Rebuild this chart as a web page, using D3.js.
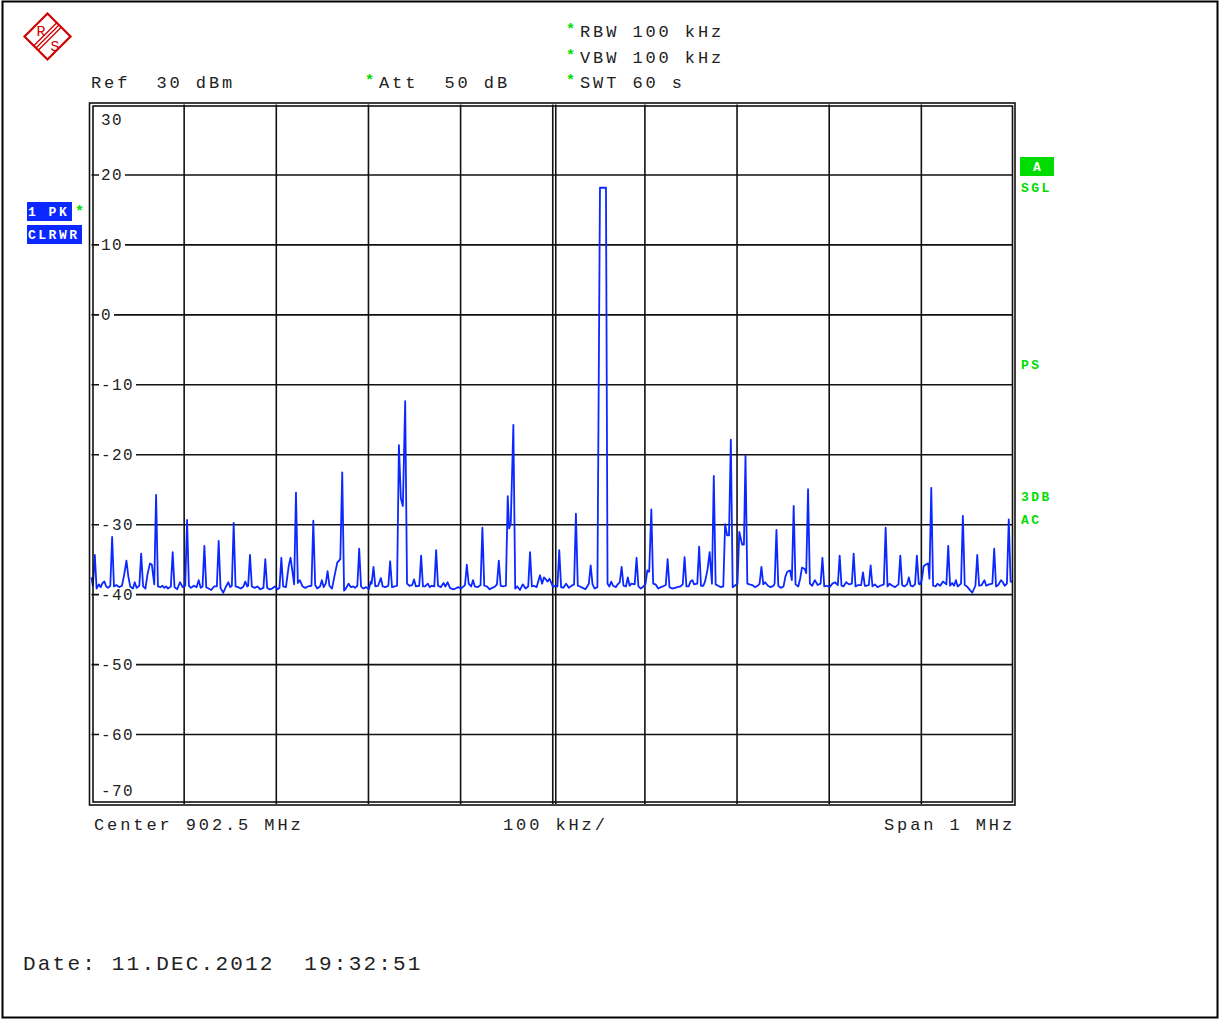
<!DOCTYPE html>
<html>
<head>
<meta charset="utf-8">
<script src="https://cdn.jsdelivr.net/npm/d3@7"></script>
<style>
  body { margin: 0; background: #fff; }
  svg text { font-family: "Liberation Mono", "Courier New", monospace; white-space: pre; }
</style>
</head>
<body>
<svg id="chart" width="1220" height="1019"></svg>
<script>
const centerMHz = 902.5;
const spanMHz = 1;
const refLevel = 30;
const bottomLevel = -70;
const lineLabels = [20, 10, 0, -10, -20, -30, -40, -50, -60];
const cornerLabels = [30, -70];
const settingsTop = ["RBW 100 kHz", "VBW 100 kHz", "SWT 60 s"];
const settingsRow = ["Ref  30 dBm", "Att  50 dB"];
const footer = ["Center 902.5 MHz", "100 kHz/", "Span 1 MHz"];
const dateText = "Date: 11.DEC.2012  19:32:51";
const traceLabels = ["1 PK", "CLRWR"];
const sideLabels = ["SGL", "PS", "3DB", "AC"];

// [offset from start in kHz, level in dBm]
const trace = [
  [0,-37.6],[1.5,-38.8],[3.6,-34.4],[5.5,-39.2],[8,-38.6],[10,-39.0],[12,-38.4],[14,-38.2],[16,-38.9],[18,-39.1],
  [20.4,-38.8],[22.4,-31.8],[24.4,-38.9],[27,-38.7],[30,-39.0],[33,-38.8],[35.5,-37.2],[37.9,-35.2],[40,-37.5],[42,-38.9],
  [45,-39.2],[46.9,-38.3],[49,-39.1],[51.9,-38.8],[53.9,-34.2],[56,-38.9],[58.5,-39.2],[61,-37.0],[63.5,-35.6],[65.5,-35.8],
  [68.1,-38.6],[70.1,-25.8],[72.1,-38.9],[75,-39.0],[77,-38.8],[79,-39.1],[81,-38.9],[83,-39.2],[86.1,-38.9],[88.1,-34.0],
  [90.1,-39.0],[93,-39.3],[96,-38.3],[99,-39.0],[101.7,-38.8],[103.7,-29.4],[105.7,-38.8],[108,-39.1],[111,-38.8],[114,-39.0],
  [116.3,-38.0],[118.5,-39.1],[120.5,-38.9],[122.5,-33.1],[124.5,-39.0],[127,-39.2],[130,-39.4],[133,-38.9],[136,-38.9],[138,-32.4],
  [140,-39.1],[143,-39.8],[146,-38.9],[148.5,-38.3],[150.5,-39.0],[152.3,-38.8],[154.3,-29.8],[156.3,-38.9],[159,-39.0],[162,-39.2],
  [164.9,-38.9],[166.9,-38.2],[169,-38.9],[170,-38.8],[172,-34.4],[174,-38.9],[177,-39.1],[180,-38.9],[183,-39.3],[186.6,-39.1],
  [188.6,-35.0],[190.6,-39.1],[193,-39.3],[196,-39.2],[199,-38.9],[202,-39.3],[204,-39.1],[206,-34.8],[208,-38.9],[211,-39.0],
  [214,-36.0],[216,-34.8],[217.5,-36.2],[219.9,-38.6],[221.9,-25.5],[223.9,-38.4],[226,-38.0],[229,-38.9],[232,-39.1],[235,-38.9],
  [238.7,-38.8],[240.7,-29.5],[242.7,-38.7],[245,-39.2],[248,-38.9],[250,-38.0],[252,-39.0],[254.2,-38.5],[256.2,-36.7],[258.2,-38.8],
  [261,-39.2],[264,-37.2],[266.7,-35.5],[270,-35.0],[272.1,-22.6],[274.1,-39.5],[276,-39.2],[279,-38.5],[281.5,-39.0],[284,-38.9],
  [286,-39.1],[288.5,-38.8],[290.5,-33.5],[292.5,-38.9],[295,-39.2],[298,-39.0],[301,-39.3],[303,-38.2],[304,-38.5],[306,-36.1],
  [308,-38.9],[311,-38.8],[314,-37.7],[316,-38.9],[319,-39.0],[322.1,-38.8],[324.1,-35.3],[326.1,-39.0],[329,-38.9],[331.6,-38.8],
  [333.6,-18.7],[335.7,-26.3],[337.9,-27.4],[340.4,-12.4],[342.4,-38.5],[345,-38.8],[348,-38.7],[350,-37.9],[352,-38.9],[355.7,-38.8],
  [357.7,-34.5],[359.7,-38.9],[362,-38.9],[365,-38.5],[367,-39.0],[369,-38.8],[372,-38.9],[374,-33.7],[376,-38.8],[379,-39.0],
  [382,-38.4],[384,-38.9],[386.5,-38.3],[389,-39.1],[392,-39.3],[395,-39.2],[398,-39.0],[401,-39.2],[405.3,-38.7],[407.3,-35.8],
  [409.3,-38.5],[412,-38.9],[414,-38.0],[416,-38.9],[419,-39.0],[422.2,-38.7],[424.2,-30.5],[426.2,-38.8],[429,-38.9],[432,-39.3],
  [435,-39.1],[438,-38.9],[440,-38.6],[442,-35.2],[444,-38.8],[447,-38.9],[449.7,-38.8],[451.7,-26.0],[453.2,-30.6],[455,-29.8],
  [457.8,-15.8],[459.8,-39.2],[462,-38.9],[465,-39.4],[468,-38.6],[471,-39.2],[473.9,-38.9],[475.9,-34.0],[477.9,-38.9],[480,-38.8],
  [483,-39.0],[486.7,-37.3],[489,-38.5],[491,-37.6],[493,-37.9],[495,-38.2],[497,-37.8],[499,-38.4],[501,-39.0],[503,-38.8],
  [505.6,-38.9],[507.6,-33.7],[509.6,-39.0],[512,-39.1],[515,-38.5],[518,-39.1],[521,-38.8],[523.7,-38.6],[525.7,-28.5],[527.7,-38.8],
  [530,-38.9],[533,-39.1],[536,-39.3],[539.7,-38.5],[541.7,-35.9],[543.7,-38.6],[546,-39.2],[549,-39.0],[551.8,18.1],[554,18.1],
  [556,18.1],[558.3,18.1],[560,-38.5],[562,-38.9],[564,-38.2],[566,-38.8],[569,-39.0],[571,-38.6],[573.3,-38.3],[575.3,-36.1],
  [577.3,-38.8],[580,-38.9],[582,-37.6],[584,-38.8],[586,-38.5],[589.5,-38.6],[591.5,-34.8],[593.5,-38.9],[596,-39.2],[599,-38.9],
  [601.2,-38.5],[603.2,-36.6],[605.2,-36.8],[607.5,-27.9],[609.5,-38.5],[612,-38.6],[615,-39.2],[618,-39.0],[620,-38.9],[623.2,-38.7],
  [625.2,-35.0],[627.2,-39.0],[630,-39.2],[633,-39.1],[636,-39.0],[639,-38.9],[641.6,-38.6],[643.6,-34.7],[645.6,-38.9],[648,-38.9],
  [650,-38.2],[652,-38.0],[654,-38.6],[657.4,-38.5],[659.4,-33.2],[661.4,-38.8],[664,-38.8],[666,-38.1],[668.5,-36.5],[670.8,-34.0],
  [673.3,-38.5],[675.3,-23.1],[677.3,-38.6],[680,-38.8],[683,-39.0],[685.6,-38.9],[687.6,-30.0],[689.8,-31.6],[691.8,-31.6],[693.8,-17.9],
  [695.8,-39.0],[698,-38.8],[701,-38.5],[703,-31.1],[706,-32.9],[708,-32.9],[709.7,-20.2],[711.7,-38.5],[714,-38.6],[717,-38.7],
  [720,-39.0],[723,-38.8],[725,-38.5],[727,-36.1],[729,-38.6],[731,-38.3],[734,-38.8],[737,-39.0],[740,-38.8],[741.3,-38.5],
  [743.3,-30.8],[745.3,-38.8],[748,-39.1],[751,-38.9],[753,-37.5],[755,-36.8],[758,-36.6],[760,-38.0],[762,-27.4],[764,-38.6],
  [767,-38.9],[769,-37.8],[771,-36.2],[774,-36.4],[775.6,-37.0],[777.6,-25.0],[779.6,-38.5],[782,-38.8],[785,-38.0],[788,-38.7],
  [791.2,-38.5],[793.2,-34.8],[795.2,-38.9],[798,-38.8],[801,-39.0],[804,-38.5],[807,-38.3],[809.9,-38.7],[811.9,-34.5],[813.9,-38.8],
  [816,-38.9],[819,-38.3],[822,-38.6],[825.1,-38.5],[827.1,-34.2],[829.1,-38.9],[832,-38.7],[835.2,-38.7],[837.2,-36.9],[839.2,-38.8],
  [841,-38.8],[843.5,-38.7],[845.5,-35.9],[847.5,-38.9],[850,-38.6],[853,-39.0],[856,-38.8],[859.8,-38.6],[861.8,-30.5],[863.8,-38.9],
  [866,-38.5],[869,-38.8],[872,-39.0],[875.7,-38.6],[877.7,-34.5],[879.7,-38.7],[882,-38.9],[885,-38.6],[887,-37.6],[889,-38.8],
  [891,-38.9],[893.7,-38.6],[895.7,-34.5],[897.7,-38.5],[899,-38.6],[901,-38.0],[903,-36.0],[905,-35.8],[908,-35.6],[909.3,-37.8],
  [911.3,-24.8],[913.3,-38.8],[916,-38.9],[918,-38.5],[921,-38.8],[924,-38.2],[927.7,-38.6],[929.7,-33.1],[931.7,-38.8],[934,-38.4],
  [936,-38.8],[938,-38.0],[940,-38.9],[943.6,-38.5],[945.6,-28.8],[947.6,-38.7],[950,-38.9],[952,-39.2],[955.8,-39.8],[959.2,-38.8],
  [961.2,-34.4],[963.2,-38.8],[966,-38.7],[969,-38.0],[971,-38.8],[974,-38.6],[977.6,-38.5],[979.6,-33.5],[981.6,-38.9],[984,-38.7],
  [987,-38.0],[989,-38.3],[991,-38.8],[993.4,-38.5],[995.4,-29.3],[997.4,-38.2],[1000,-38.3]
];

const green = "#00dc00";
const blue = "#0a28ff";
const red = "#d00000";
const plot = { left: 91.5, right: 1013, top: 104.5, bottom: 804 };
const plotW = plot.right - plot.left;
const plotH = plot.bottom - plot.top;
const startMHz = centerMHz - spanMHz / 2;

const svg = d3.select("#chart");

// outer frame
svg.append("rect").attr("x", 2.5).attr("y", 1.5).attr("width", 1215).attr("height", 1016)
   .attr("fill", "none").attr("stroke", "#000").attr("stroke-width", 2);

var xScale = d3.scaleLinear()
               .domain([startMHz, startMHz + spanMHz])
               .range([plot.left, plot.right]);
var yScale = d3.scaleLinear()
               .domain([bottomLevel, refLevel])
               .range([plot.bottom, plot.top]);

// grid via axes
var xGrid = d3.axisBottom(xScale)
              .tickValues(d3.range(1, 10).map(i => startMHz + i * spanMHz / 10))
              .tickSize(-plotH).tickFormat("");
svg.append("g").attr("class", "grid")
   .attr("transform", "translate(0," + plot.bottom + ")")
   .call(xGrid)
   .call(g => g.select(".domain").remove());

var yGrid = d3.axisLeft(yScale)
              .tickValues(lineLabels)
              .tickSize(-plotW).tickFormat("");
svg.append("g").attr("class", "grid")
   .attr("transform", "translate(" + plot.left + ",0)")
   .call(yGrid)
   .call(g => g.select(".domain").remove());

svg.selectAll(".grid line").attr("stroke", "#111").attr("stroke-width", 1.6);

// second line beside the centre line
svg.append("line")
   .attr("x1", xScale(centerMHz) + 3.5).attr("x2", xScale(centerMHz) + 3.5)
   .attr("y1", plot.top).attr("y2", plot.bottom)
   .attr("stroke", "#111").attr("stroke-width", 1.6);

// level labels sitting on grid lines
var lbl = svg.append("g").selectAll("g").data(lineLabels).enter().append("g");
lbl.append("rect")
   .attr("x", 99).attr("y", d => yScale(d) - 8)
   .attr("width", d => String(d).length * 11 + 4).attr("height", 16)
   .attr("fill", "#fff");
lbl.append("text")
   .attr("x", 101).attr("y", d => yScale(d) + 5.5)
   .attr("font-size", 16).attr("letter-spacing", 1.4).attr("fill", "#222")
   .text(d => d);

svg.append("text").attr("x", 101).attr("y", yScale(cornerLabels[0]) + 20)
   .attr("font-size", 16).attr("letter-spacing", 1.4).attr("fill", "#222").text(cornerLabels[0]);
svg.append("text").attr("x", 101).attr("y", yScale(cornerLabels[1]) - 8)
   .attr("font-size", 16).attr("letter-spacing", 1.4).attr("fill", "#222").text(cornerLabels[1]);

// trace
var line = d3.line()
             .x(d => xScale(startMHz + d[0] / 1000))
             .y(d => yScale(d[1]));
svg.append("path").datum(trace)
   .attr("d", line)
   .attr("fill", "none").attr("stroke", blue).attr("stroke-width", 1.8)
   .attr("stroke-linejoin", "round");

// double frame around the screen
svg.append("rect").attr("x", 89.5).attr("y", 103).attr("width", 925.5).attr("height", 702)
   .attr("fill", "none").attr("stroke", "#111").attr("stroke-width", 1.6);
svg.append("rect").attr("x", 93).attr("y", 106).attr("width", 919.5).attr("height", 696)
   .attr("fill", "none").attr("stroke", "#111").attr("stroke-width", 1.6);

// header texts
function headerText(x, y, s, star){
  if(star){
    svg.append("text").attr("x", x - 14).attr("y", y - 3)
       .attr("font-size", 15).attr("font-weight", "bold").attr("fill", green).text("*");
  }
  svg.append("text").attr("x", x).attr("y", y)
     .attr("font-size", 17).attr("letter-spacing", 2.9).attr("fill", "#222").text(s);
}
settingsTop.forEach((s, i) => headerText(580, 37 + i * 25.5, s, true));
headerText(91, 88, settingsRow[0], false);
headerText(379, 88, settingsRow[1], true);

headerText(94, 830, footer[0], false);
headerText(503, 830, footer[1], false);
headerText(884, 830, footer[2], false);

svg.append("text").attr("x", 23).attr("y", 970)
   .attr("font-size", 21).attr("letter-spacing", 2.2).attr("fill", "#222").text(dateText);

// trace info boxes on the left
function boxLabel(x, y, w, s, fill){
  svg.append("rect").attr("x", x).attr("y", y).attr("width", w).attr("height", 19).attr("fill", fill);
  svg.append("text").attr("x", x + 1).attr("y", y + 14)
     .attr("font-size", 13).attr("font-weight", "bold").attr("letter-spacing", 2.5)
     .attr("fill", "#fff").text(s);
}
boxLabel(27, 202, 45, traceLabels[0], blue);
boxLabel(27, 225, 55, traceLabels[1], blue);
svg.append("text").attr("x", 75).attr("y", 216)
   .attr("font-size", 15).attr("font-weight", "bold").attr("fill", green).text("*");

// right side status
svg.append("rect").attr("x", 1020).attr("y", 157).attr("width", 34).attr("height", 19).attr("fill", green);
svg.append("text").attr("x", 1037).attr("y", 171).attr("text-anchor", "middle")
   .attr("font-size", 13).attr("font-weight", "bold").attr("fill", "#fff").text("A");
[192, 369, 501, 524].forEach((y, i) => {
  svg.append("text").attr("x", 1021).attr("y", y)
     .attr("font-size", 13).attr("font-weight", "bold").attr("letter-spacing", 2.5)
     .attr("fill", green).text(sideLabels[i]);
});

// R&S logo
var logo = svg.append("g").attr("transform", "translate(47.5,36.5)");
logo.append("path").attr("d", "M-23,0L0,-23L23,0L0,23Z")
    .attr("fill", "none").attr("stroke", red).attr("stroke-width", 2.2);
[-2.2, 0, 2.2].forEach(o => {
  logo.append("line")
      .attr("x1", -11.5 + o).attr("y1", 11.5 + o)
      .attr("x2", 11.5 + o).attr("y2", -11.5 + o)
      .attr("stroke", red).attr("stroke-width", 1.3);
});
logo.append("text").attr("x", -11).attr("y", -1).attr("font-size", 15)
    .attr("font-family", "Liberation Sans").attr("fill", red).text("R");
logo.append("text").attr("x", 3).attr("y", 14).attr("font-size", 15)
    .attr("font-family", "Liberation Sans").attr("fill", red).text("S");
</script>
</body>
</html>
